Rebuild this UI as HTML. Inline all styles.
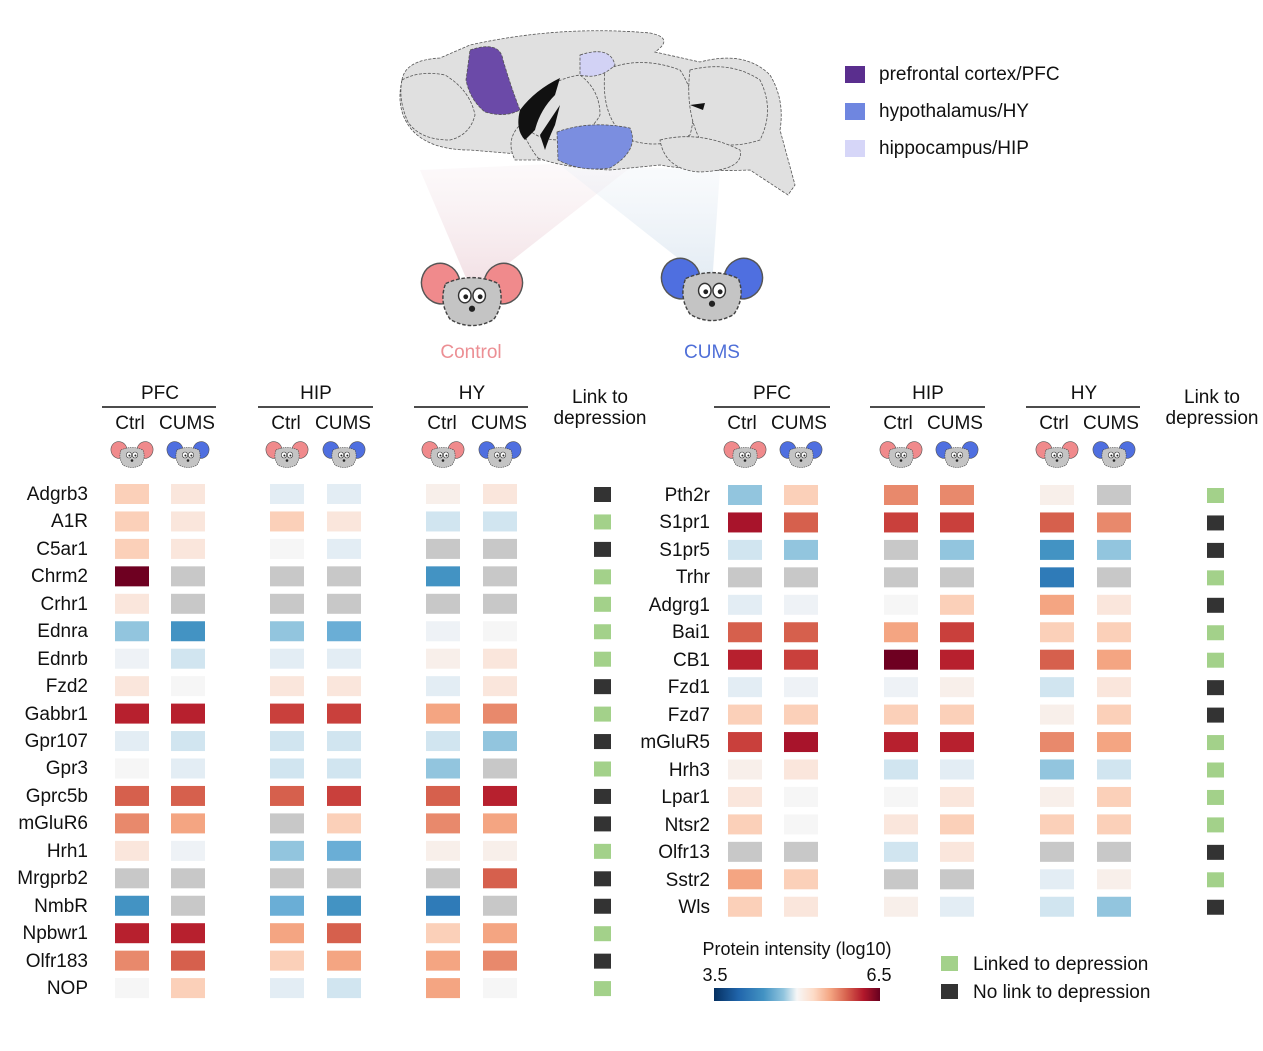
<!DOCTYPE html>
<html><head><meta charset="utf-8"><style>
html,body{margin:0;padding:0;background:#fff;}
svg{display:block;font-family:"Liberation Sans",Arial,sans-serif;}
</style></head><body>
<svg id="s" width="1263" height="1051" viewBox="0 0 1263 1051" xmlns="http://www.w3.org/2000/svg">
<defs>
<linearGradient id="cb" x1="0" x2="1" y1="0" y2="0">
<stop offset="0" stop-color="#053061"/><stop offset="0.15" stop-color="#2166ac"/><stop offset="0.3" stop-color="#4393c3"/><stop offset="0.42" stop-color="#92c5de"/><stop offset="0.5" stop-color="#f7f7f7"/><stop offset="0.6" stop-color="#fddbc7"/><stop offset="0.7" stop-color="#f4a582"/><stop offset="0.8" stop-color="#d6604d"/><stop offset="0.9" stop-color="#b2182b"/><stop offset="1" stop-color="#67001f"/>
</linearGradient>
<linearGradient id="fp" x1="0" x2="0" y1="0" y2="1"><stop offset="0" stop-color="#f3e6ea" stop-opacity="0.2"/><stop offset="1" stop-color="#eccfd6" stop-opacity="0.7"/></linearGradient>
<linearGradient id="fb" x1="0" x2="0" y1="0" y2="1"><stop offset="0" stop-color="#e3ebf3" stop-opacity="0.2"/><stop offset="1" stop-color="#d5e2ee" stop-opacity="0.7"/></linearGradient>
<g id="head"><path d="M-11,-6 Q0,-11 11,-6 Q14,2 9,9 Q0,14 -9,9 Q-14,2 -11,-6 Z" fill="#c4c4c4" stroke="#444" stroke-width="0.6" stroke-dasharray="1.5,0.8"/><ellipse cx="-3" cy="-1" rx="2.6" ry="3" fill="#fff" stroke="#333" stroke-width="0.6"/><ellipse cx="3" cy="-1" rx="2.6" ry="3" fill="#fff" stroke="#333" stroke-width="0.6"/><circle cx="-2.6" cy="-0.5" r="1" fill="#222"/><circle cx="3.4" cy="-0.5" r="1" fill="#222"/><circle cx="0" cy="4.5" r="1.3" fill="#222"/></g>
<g id="mc"><ellipse cx="-13" cy="-6" rx="8" ry="8.5" fill="#f08a8c" stroke="#555" stroke-width="0.6" transform="rotate(-20 -13 -6)"/><ellipse cx="13" cy="-6" rx="8" ry="8.5" fill="#f08a8c" stroke="#555" stroke-width="0.6" transform="rotate(20 13 -6)"/><use href="#head"/></g>
<g id="mu"><ellipse cx="-13" cy="-6" rx="8" ry="8.5" fill="#4f6fe0" stroke="#555" stroke-width="0.6" transform="rotate(-20 -13 -6)"/><ellipse cx="13" cy="-6" rx="8" ry="8.5" fill="#4f6fe0" stroke="#555" stroke-width="0.6" transform="rotate(20 13 -6)"/><use href="#head"/></g>
</defs>

<path d="M472,292 L420,170 L640,160 Z" fill="url(#fp)"/>
<path d="M712,285 L560,165 L720,170 Z" fill="url(#fb)"/>
<!-- brain -->
<g stroke="#555" stroke-width="0.8" stroke-dasharray="3,1.5" fill="#e0e0e0">
<path d="M402,80 Q405,60 440,58 L470,45 Q560,25 650,33 Q675,38 655,52 L700,62 Q745,50 770,75 Q785,100 780,130 L795,185 L788,195 L750,170 Q700,172 660,165 L610,170 Q560,168 530,155 L470,150 Q430,150 412,130 Q395,110 402,80 Z"/>
<path d="M402,80 Q420,70 445,75 Q470,90 475,115 Q470,135 450,140 Q420,140 408,122 Q398,100 402,80 Z"/>
<path d="M525,110 Q545,80 580,75 Q600,90 600,115 Q590,135 560,140 Q535,140 525,125 Z"/>
<path d="M605,70 Q640,55 680,70 Q700,100 690,135 Q660,150 630,140 Q600,120 605,70 Z"/>
<path d="M690,70 Q730,60 760,80 Q775,110 760,140 Q730,150 700,140 Q685,110 690,70 Z"/>
<path d="M660,140 Q700,130 740,150 Q745,170 700,172 Q665,170 660,140 Z"/>
<path d="M520,125 Q530,150 540,160 L515,160 Q505,140 520,125 Z"/>
<path d="M580,55 Q610,45 615,65 Q600,80 580,75 Z" fill="#d2d2f5"/>
<path d="M557,132 Q590,120 630,128 Q640,150 610,168 Q580,172 558,160 Z" fill="#7b8ee0"/>
</g>
<path d="M470,50 Q500,40 503,60 Q512,90 520,110 Q505,118 485,112 Q470,100 466,80 Z" fill="#6b4aa8" stroke="#555" stroke-width="0.8" stroke-dasharray="3,1.5"/>
<path d="M520,110 Q535,90 560,78 L555,95 Q540,110 535,130 L525,140 Q515,130 520,110 Z" fill="#111"/>
<path d="M540,135 Q550,120 560,105 L555,125 Q548,140 545,150 Z" fill="#111"/>
<path d="M690,105 L705,103 L703,110 Z" fill="#111"/>
<g transform="translate(472,298) scale(2.4)"><use href="#mc"/></g>
<g transform="translate(712,293) scale(2.4)"><use href="#mu"/></g>
<text x="471" y="358" font-size="19" fill="#ec8f94" text-anchor="middle">Control</text>
<text x="712" y="358" font-size="19" fill="#4f6fd8" text-anchor="middle">CUMS</text>
<rect x="845" y="66" width="20" height="17" fill="#5a2e8e"/>
<rect x="845" y="103" width="20" height="17" fill="#6f86e0"/>
<rect x="845" y="140" width="20" height="17" fill="#d6d6f8"/>
<g font-size="19" fill="#111"><text x="879" y="80">prefrontal cortex/PFC</text><text x="879" y="117">hypothalamus/HY</text><text x="879" y="154">hippocampus/HIP</text></g>

<g id="cells"></g>
<g font-size="19" fill="#111" text-anchor="end">
<text x="88" y="500">Adgrb3</text><text x="88" y="527">A1R</text><text x="88" y="555">C5ar1</text><text x="88" y="582">Chrm2</text><text x="88" y="610">Crhr1</text><text x="88" y="637">Ednra</text><text x="88" y="665">Ednrb</text><text x="88" y="692">Fzd2</text><text x="88" y="720">Gabbr1</text><text x="88" y="747">Gpr107</text><text x="88" y="774">Gpr3</text><text x="88" y="802">Gprc5b</text><text x="88" y="829">mGluR6</text><text x="88" y="857">Hrh1</text><text x="88" y="884">Mrgprb2</text><text x="88" y="912">NmbR</text><text x="88" y="939">Npbwr1</text><text x="88" y="967">Olfr183</text><text x="88" y="994">NOP</text>
<text x="710" y="501">Pth2r</text><text x="710" y="528">S1pr1</text><text x="710" y="556">S1pr5</text><text x="710" y="583">Trhr</text><text x="710" y="611">Adgrg1</text><text x="710" y="638">Bai1</text><text x="710" y="666">CB1</text><text x="710" y="693">Fzd1</text><text x="710" y="721">Fzd7</text><text x="710" y="748">mGluR5</text><text x="710" y="776">Hrh3</text><text x="710" y="803">Lpar1</text><text x="710" y="831">Ntsr2</text><text x="710" y="858">Olfr13</text><text x="710" y="886">Sstr2</text><text x="710" y="913">Wls</text>
</g>
<g font-size="19" fill="#111" text-anchor="middle">
<text x="160" y="399">PFC</text><text x="316" y="399">HIP</text><text x="472" y="399">HY</text>
<text x="772" y="399">PFC</text><text x="928" y="399">HIP</text><text x="1084" y="399">HY</text>
<text x="130" y="429">Ctrl</text><text x="187" y="429">CUMS</text><text x="286" y="429">Ctrl</text><text x="343" y="429">CUMS</text><text x="442" y="429">Ctrl</text><text x="499" y="429">CUMS</text>
<text x="742" y="429">Ctrl</text><text x="799" y="429">CUMS</text><text x="898" y="429">Ctrl</text><text x="955" y="429">CUMS</text><text x="1054" y="429">Ctrl</text><text x="1111" y="429">CUMS</text>
<text x="600" y="403">Link to</text><text x="600" y="424">depression</text>
<text x="1212" y="403">Link to</text><text x="1212" y="424">depression</text>
</g>
<g stroke="#111" stroke-width="1.6">
<line x1="102" y1="407" x2="216" y2="407"/><line x1="258" y1="407" x2="373" y2="407"/><line x1="414" y1="407" x2="528" y2="407"/>
<line x1="714" y1="407" x2="830" y2="407"/><line x1="870" y1="407" x2="985" y2="407"/><line x1="1026" y1="407" x2="1140" y2="407"/>
</g>
<g id="mice"></g>
<text x="797" y="955" font-size="18" fill="#111" text-anchor="middle">Protein intensity (log10)</text>
<text x="715" y="981" font-size="18" fill="#111" text-anchor="middle">3.5</text>
<text x="879" y="981" font-size="18" fill="#111" text-anchor="middle">6.5</text>
<rect x="714" y="988" width="166" height="13" fill="url(#cb)"/>
<rect x="941" y="956" width="17" height="15" fill="#a3d18a"/>
<rect x="941" y="984" width="17" height="15" fill="#333"/>
<text x="973" y="970" font-size="19" fill="#111">Linked to depression</text>
<text x="973" y="998" font-size="19" fill="#111">No link to depression</text>
</svg>
<script>
var C={dr:"#6e0021",r1:"#b7202e",r1p:"#a8142b",r2:"#d6604d",r2m:"#c9403c",r3:"#f4a582",r3p:"#e8896c",r4:"#fbd0b9",r5:"#fae6dc",r5w:"#f8efea",w:"#f6f6f6",b5w:"#eef2f6",b5:"#e3edf4",b4:"#d1e5f0",b3:"#92c5de",b3m:"#6aaed6",b2:"#4393c3",b1:"#2f7bb8",g:"#c8c8c8"};
var L=[
"r4 r5 b5 b5 r5w r5 K","r4 r5 r4 r5 b4 b4 G","r4 r5 w b5 g g K","dr g g g b2 g G","r5 g g g g g G",
"b3 b2 b3 b3m b5w w G","b5w b4 b5 b5 r5w r5 G","r5 w r5 r5 b5 r5 K","r1 r1 r2m r2m r3 r3p G","b5 b4 b4 b4 b4 b3 K",
"w b5 b4 b4 b3 g G","r2 r2 r2 r2m r2 r1 K","r3p r3 g r4 r3p r3 K","r5 b5w b3 b3m r5w r5w G","g g g g g r2 K",
"b2 g b3m b2 b1 g K","r1 r1 r3 r2 r4 r3 G","r3p r2 r4 r3 r3 r3p K","w r4 b5 b4 r3 w G"];
var R=[
"b3 r4 r3p r3p r5w g G","r1p r2 r2m r2m r2 r3p K","b4 b3 g b3 b2 b3 K","g g g g b1 g G","b5 b5w w r4 r3 r5 K",
"r2 r2 r3 r2m r4 r4 G","r1 r2m dr r1 r2 r3 G","b5 b5w b5w r5w b4 r5 K","r4 r4 r4 r4 r5w r4 K","r2m r1p r1 r1 r3p r3 G",
"r5w r5 b4 b5 b3 b4 G","r5 w w r5 r5w r4 G","r4 w r5 r4 r4 r4 G","g g b4 r5 g g K","r3 r4 g g b5 r5w G","r4 r5 r5w b5 b4 b3 K"];
var s="";
function tbl(rows,xs,lx,y0){rows.forEach(function(r,i){var p=r.split(" ");var y=y0+i*27.45;
for(var j=0;j<6;j++)s+='<rect x="'+(xs[j]-17)+'" y="'+(y-10)+'" width="34" height="20" fill="'+C[p[j]]+'"/>';
s+='<rect x="'+(lx-8)+'" y="'+(y-7)+'" width="17" height="15" fill="'+(p[6]=="G"?"#a3d18a":"#333")+'"/>';});}
tbl(L,[132,188,287,344,443,500],602,494);
tbl(R,[745,801,901,957,1057,1114],1215,495);
document.getElementById("cells").innerHTML=s;
var m="";[132,287,443,745,901,1057].forEach(function(x){m+='<use href="#mc" x="'+x+'" y="456"/>';});
[188,344,500,801,957,1114].forEach(function(x){m+='<use href="#mu" x="'+x+'" y="456"/>';});
document.getElementById("mice").innerHTML=m;
</script>
</body></html>
